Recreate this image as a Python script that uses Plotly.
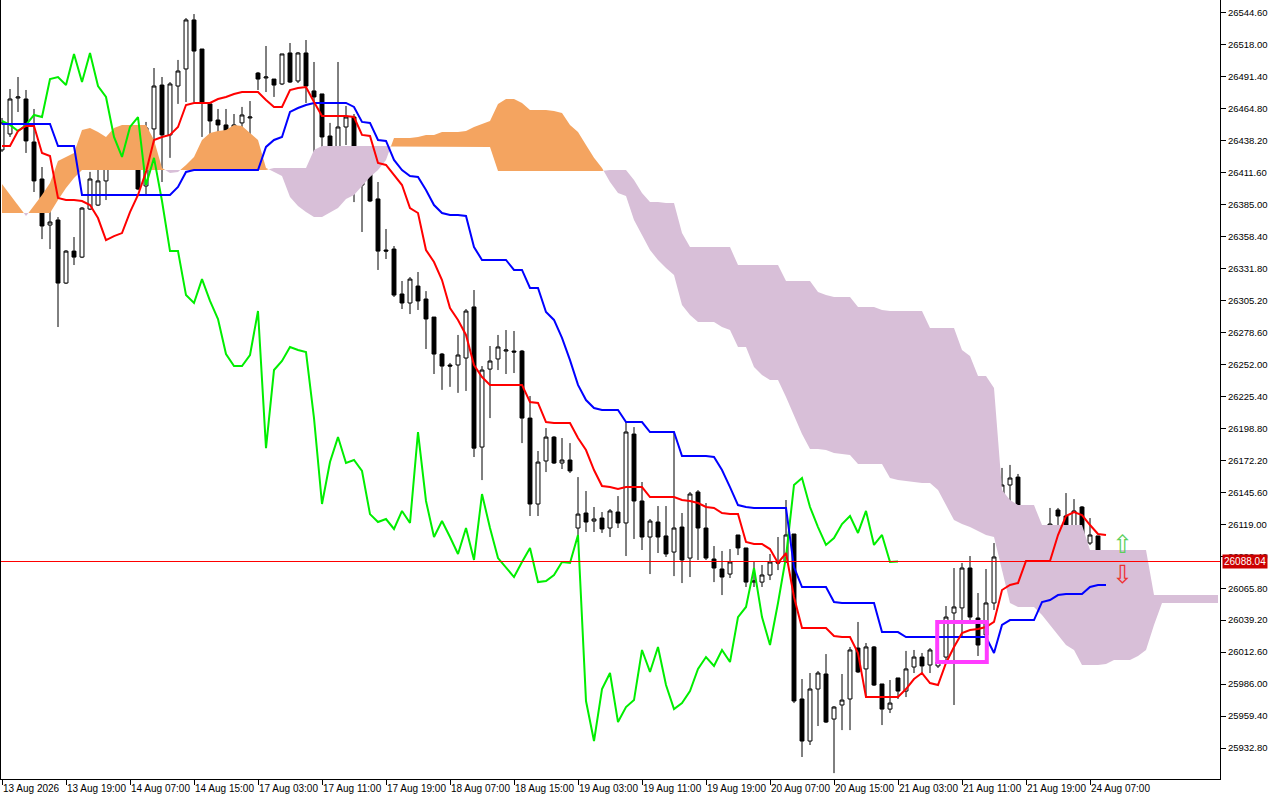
import plotly.graph_objects as go

# Hourly candles with Ichimoku lines and cloud (chart values)

time_labels = ["13 Aug 2026", "13 Aug 19:00", "14 Aug 07:00", "14 Aug 15:00", "17 Aug 03:00",
               "17 Aug 11:00", "17 Aug 19:00", "18 Aug 07:00", "18 Aug 15:00", "19 Aug 03:00",
               "19 Aug 11:00", "19 Aug 19:00", "20 Aug 07:00", "20 Aug 15:00", "21 Aug 03:00",
               "21 Aug 11:00", "21 Aug 19:00", "24 Aug 07:00"]

price_ticks = [25932.80, 25959.40, 25986.00, 26012.60, 26039.20, 26065.80, 26092.40, 26119.00,
               26145.60, 26172.20, 26198.80, 26225.40, 26252.00, 26278.60, 26305.20, 26331.80,
               26358.40, 26385.00, 26411.60, 26438.20, 26464.80, 26491.40, 26518.00, 26544.60]

opens = [26430.6, 26443.9, 26473.8, 26473.0, 26437.2, 26406.4, 26368.1, 26372.3, 26319.8, 26346.4,
         26341.4, 26381.4, 26384.7, 26404.8, 26419.8, 26421.4, 26418.1, 26416.4, 26400.6, 26448.1,
         26484.6, 26443.1, 26483.8, 26498.0, 26538.8, 26514.6, 26468.9, 26455.5, 26451.4, 26444.7,
         26453.1, 26457.2, 26494.6, 26490.5, 26489.6, 26485.5, 26511.3, 26488.0, 26511.3, 26479.7,
         26477.2, 26442.2, 26424.8, 26449.7, 26458.0, 26401.4, 26423.1, 26389.8, 26347.3, 26348.1,
         26310.7, 26303.2, 26317.3, 26306.5, 26291.5, 26260.7, 26251.6, 26251.6, 26257.4, 26299.9,
         26183.3, 26248.2, 26256.6, 26263.2, 26263.2, 26263.2, 26207.4, 26135.9, 26171.7, 26191.6,
         26170.0, 26172.5, 26115.9, 26128.4, 26121.7, 26124.2, 26115.9, 26129.2, 26120.1, 26194.1,
         26138.4, 26108.4, 26120.9, 26109.3, 26095.9, 26116.7, 26090.9, 26145.9, 26115.9, 26090.1,
         26081.8, 26077.6, 26110.1, 26099.3, 26070.9, 26070.9, 26076.8, 26087.6, 26087.6, 26110.9,
         25973.6, 25938.6, 25981.9, 25994.4, 25956.9, 25968.6, 25973.6, 26016.0, 25998.6, 26016.9,
         25986.1, 25965.2, 25991.1, 25980.2, 26000.2, 26008.5, 26001.9, 26001.1, 26008.5, 26045.2,
         26049.4, 26082.6, 26041.0, 26026.9, 26053.5, 26091.8, 26151.7, 26158.3, 26133.4, 26118.4,
         26102.6, 26108.4, 26130.9, 26125.9, 26111.8, 26133.4, 26103.4, 26109.3, 26082.6]

highs = [26457.2, 26481.3, 26491.3, 26480.5, 26464.7, 26416.4, 26389.8, 26374.7, 26347.3, 26358.1,
         26383.1, 26412.3, 26424.8, 26424.8, 26433.1, 26438.9, 26426.4, 26418.9, 26453.9, 26498.8,
         26491.3, 26487.1, 26505.5, 26540.4, 26543.7, 26514.6, 26468.9, 26464.7, 26464.7, 26460.5,
         26466.4, 26471.3, 26495.5, 26517.1, 26489.6, 26510.5, 26519.6, 26512.1, 26522.1, 26503.8,
         26477.2, 26453.1, 26503.8, 26467.2, 26460.5, 26424.8, 26425.6, 26403.9, 26364.8, 26350.6,
         26321.5, 26324.8, 26329.0, 26313.1, 26291.5, 26261.6, 26253.3, 26276.6, 26298.2, 26314.0,
         26250.7, 26267.4, 26276.6, 26280.7, 26279.9, 26264.1, 26225.8, 26180.0, 26199.1, 26192.4,
         26190.8, 26186.6, 26158.3, 26146.7, 26133.4, 26129.2, 26131.7, 26142.5, 26204.1, 26199.9,
         26154.2, 26123.4, 26134.2, 26134.2, 26195.8, 26128.4, 26145.9, 26147.5, 26136.7, 26100.9,
         26096.8, 26098.4, 26110.1, 26099.3, 26087.6, 26085.1, 26094.3, 26108.4, 26139.2, 26110.9,
         25990.2, 25995.2, 25996.9, 26011.0, 25967.7, 25994.4, 26016.9, 26037.7, 26020.2, 26017.7,
         25986.1, 25989.4, 25991.1, 26013.6, 26014.4, 26011.9, 26016.0, 26022.7, 26051.0, 26082.6,
         26086.8, 26092.6, 26061.8, 26081.8, 26103.4, 26165.9, 26168.4, 26160.9, 26133.4, 26118.4,
         26107.6, 26132.6, 26132.6, 26145.0, 26140.0, 26134.2, 26124.2, 26109.3, 26090.0]

lows = [26428.9, 26441.4, 26462.2, 26428.1, 26395.6, 26356.4, 26348.1, 26283.2, 26319.0, 26334.8,
        26340.6, 26380.6, 26383.9, 26388.9, 26417.2, 26417.2, 26415.6, 26397.2, 26393.1, 26428.1,
        26403.9, 26424.0, 26468.9, 26470.5, 26470.5, 26441.4, 26414.7, 26414.7, 26444.7, 26441.4,
        26447.2, 26443.9, 26480.5, 26478.8, 26474.7, 26484.6, 26486.3, 26486.3, 26469.7, 26426.4,
        26394.8, 26406.4, 26412.3, 26434.7, 26387.2, 26362.3, 26387.2, 26330.7, 26339.8, 26308.2,
        26298.2, 26294.0, 26297.4, 26264.9, 26244.1, 26230.9, 26233.4, 26228.4, 26230.0, 26175.0,
        26155.8, 26207.4, 26247.4, 26244.1, 26244.9, 26186.6, 26125.9, 26125.9, 26162.5, 26169.2,
        26165.0, 26161.7, 26110.1, 26112.6, 26112.6, 26111.8, 26108.4, 26115.9, 26092.6, 26106.8,
        26097.6, 26077.6, 26095.1, 26091.8, 26075.9, 26070.1, 26075.1, 26089.3, 26089.3, 26070.9,
        26060.1, 26074.3, 26093.4, 26066.8, 26066.8, 26066.8, 26072.6, 26080.9, 26086.8, 25970.2,
        25925.3, 25935.3, 25951.1, 25953.6, 25911.9, 25947.7, 25947.7, 25995.2, 25975.2, 25984.4,
        25951.9, 25961.9, 25973.6, 25975.2, 25995.2, 25995.2, 25995.2, 25999.4, 26006.0, 25968.6,
        26025.2, 26039.3, 26009.4, 26022.7, 26047.7, 26087.6, 26118.4, 26111.8, 26101.8, 26098.4,
        26093.4, 26093.4, 26111.8, 26110.9, 26101.8, 26100.9, 26101.8, 26075.9, 26081.8]

closes = [26453.1, 26473.0, 26474.7, 26438.1, 26404.8, 26367.3, 26370.6, 26319.8, 26346.4, 26341.4,
          26382.2, 26406.4, 26404.8, 26421.4, 26421.4, 26418.1, 26416.4, 26398.1, 26448.9, 26483.8,
          26443.1, 26485.5, 26496.3, 26538.8, 26512.9, 26469.7, 26454.7, 26451.4, 26446.4, 26451.4,
          26459.7, 26458.0, 26489.6, 26491.3, 26484.6, 26510.5, 26487.1, 26511.3, 26483.8, 26474.7,
          26441.4, 26424.8, 26449.7, 26458.0, 26401.4, 26424.0, 26388.1, 26346.4, 26346.4, 26309.8,
          26303.2, 26323.1, 26304.9, 26289.9, 26260.7, 26250.7, 26250.7, 26259.9, 26296.5, 26182.4,
          26247.4, 26254.9, 26266.6, 26264.1, 26262.4, 26207.4, 26135.9, 26170.8, 26191.6, 26170.0,
          26172.5, 26163.4, 26127.5, 26120.9, 26123.4, 26115.1, 26130.1, 26120.1, 26195.8, 26138.4,
          26108.4, 26121.7, 26108.4, 26094.3, 26115.9, 26089.3, 26144.2, 26115.9, 26090.9, 26082.6,
          26075.1, 26087.6, 26099.3, 26070.9, 26071.8, 26076.8, 26087.6, 26086.8, 26110.1, 25971.9,
          25938.6, 25981.9, 25995.2, 25954.4, 25966.9, 25972.7, 26014.4, 25996.1, 26016.9, 25985.2,
          25965.2, 25970.2, 25980.2, 25998.6, 26008.5, 26001.1, 26014.4, 26004.4, 26041.8, 26050.2,
          26082.6, 26041.8, 26018.5, 26053.5, 26091.8, 26151.7, 26157.5, 26133.4, 26116.7, 26101.8,
          26107.6, 26119.2, 26125.9, 26111.8, 26130.1, 26101.8, 26110.1, 26087.6, 26088.04]

tenkan = [26433.9, 26433.9, 26446.4, 26450.6, 26450.6, 26428.1, 26425.6, 26390.6, 26388.9, 26388.9,
          26388.1, 26384.7, 26373.9, 26355.6, 26358.9, 26361.4, 26378.9, 26393.1, 26412.3, 26438.9,
          26441.4, 26443.1, 26449.7, 26468.0, 26469.7, 26469.7, 26469.7, 26473.0, 26474.7, 26477.2,
          26478.8, 26478.8, 26478.8, 26472.2, 26466.4, 26466.4, 26480.5, 26482.1, 26483.0, 26470.5,
          26458.9, 26458.9, 26458.9, 26458.9, 26458.0, 26443.1, 26442.2, 26419.8, 26418.1, 26409.8,
          26401.4, 26382.2, 26378.1, 26347.3, 26337.3, 26322.3, 26299.0, 26289.1, 26276.6, 26251.6,
          26241.6, 26235.0, 26235.0, 26235.0, 26235.0, 26235.0, 26220.8, 26220.0, 26204.1, 26203.3,
          26203.3, 26203.3, 26190.8, 26180.8, 26164.2, 26150.9, 26150.0, 26148.4, 26150.0, 26150.0,
          26150.0, 26141.7, 26141.7, 26141.7, 26141.7, 26139.2, 26138.4, 26136.7, 26133.4, 26132.6,
          26128.4, 26127.5, 26127.5, 26104.3, 26102.6, 26102.6, 26098.4, 26086.8, 26095.1, 26058.5,
          26032.7, 26032.7, 26032.7, 26032.7, 26026.0, 26025.2, 26025.2, 26011.9, 25975.2, 25975.2,
          25975.2, 25975.2, 25975.2, 25981.9, 25990.2, 25995.2, 25986.9, 25985.2, 26003.6, 26016.9,
          26028.5, 26031.0, 26031.8, 26033.5, 26037.7, 26064.3, 26068.5, 26070.1, 26088.5, 26088.5,
          26088.5, 26088.5, 26110.1, 26125.9, 26129.2, 26126.7, 26118.4, 26110.9, 26110.1]

kijun = [26452.2, 26452.2, 26452.2, 26452.2, 26452.2, 26452.2, 26452.2, 26433.9, 26433.9, 26433.9,
         26393.1, 26393.1, 26393.1, 26393.1, 26393.1, 26393.1, 26393.1, 26393.1, 26393.1, 26393.1,
         26393.1, 26393.1, 26399.8, 26412.3, 26413.9, 26413.9, 26413.9, 26413.9, 26413.9, 26413.9,
         26413.9, 26413.9, 26413.9, 26433.1, 26438.9, 26441.4, 26462.2, 26465.5, 26468.0, 26469.7,
         26469.7, 26469.7, 26469.7, 26469.7, 26466.4, 26453.9, 26453.1, 26438.9, 26438.1, 26422.3,
         26413.9, 26408.9, 26408.1, 26397.2, 26384.7, 26378.1, 26376.4, 26376.4, 26375.6, 26349.8,
         26339.0, 26339.0, 26339.0, 26339.0, 26330.7, 26330.7, 26315.7, 26315.7, 26295.7, 26289.1,
         26274.1, 26255.7, 26235.0, 26222.4, 26215.8, 26214.1, 26214.1, 26214.1, 26204.1, 26204.1,
         26204.1, 26195.8, 26195.8, 26195.8, 26195.8, 26175.8, 26175.8, 26175.8, 26175.8, 26175.0,
         26164.2, 26150.0, 26135.0, 26133.4, 26132.6, 26132.6, 26132.6, 26132.6, 26132.6, 26083.4,
         26066.8, 26066.8, 26066.8, 26066.8, 26054.3, 26053.5, 26053.5, 26053.5, 26053.5, 26053.5,
         26029.3, 26029.3, 26029.3, 26025.2, 26025.2, 26025.2, 26025.2, 26025.2, 26025.2, 26025.2,
         26025.2, 26025.2, 26025.2, 26025.2, 26011.9, 26035.2, 26039.3, 26039.3, 26039.3, 26039.3,
         26054.3, 26056.0, 26060.1, 26061.0, 26061.0, 26061.0, 26066.8, 26068.5, 26068.5]

# Senkou spans, already shifted 26 bars ahead (they run past the last candle)
span_a = [26402.2, 26393.1, 26384.7, 26375.6, 26383.9, 26393.1, 26403.1, 26421.4, 26424.8, 26428.1,
          26447.2, 26448.9, 26445.6, 26441.4, 26448.9, 26451.4, 26451.4, 26451.4, 26451.4, 26438.9,
          26415.6, 26411.4, 26412.3, 26418.1, 26424.8, 26438.9, 26444.7, 26446.4, 26447.2, 26451.4,
          26450.6, 26444.7, 26438.9, 26415.6, 26412.3, 26408.9, 26391.4, 26383.9, 26378.9, 26374.7,
          26374.7, 26378.1, 26382.2, 26389.8, 26393.1, 26400.6, 26408.1, 26413.9, 26422.3, 26440.5,
          26440.5, 26440.5, 26441.4, 26443.1, 26443.1, 26445.6, 26445.6, 26445.6, 26446.4, 26449.7,
          26452.2, 26454.7, 26468.9, 26473.0, 26473.0, 26469.7, 26463.8, 26463.8, 26463.8, 26463.0,
          26461.3, 26451.4, 26445.6, 26434.7, 26424.0, 26415.6, 26403.9, 26394.8, 26392.3, 26372.3,
          26359.8, 26347.3, 26339.0, 26332.3, 26326.5, 26301.5, 26293.2, 26287.4, 26287.4, 26287.4,
          26283.2, 26280.7, 26266.6, 26266.6, 26250.0, 26243.3, 26239.1, 26239.1, 26225.0, 26209.1,
          26194.1, 26181.7, 26181.7, 26180.8, 26178.3, 26177.5, 26176.7, 26169.2, 26169.2, 26169.2,
          26169.2, 26157.5, 26155.8, 26155.0, 26154.2, 26153.4, 26153.4, 26147.5, 26135.0, 26122.6,
          26119.2, 26116.7, 26113.4, 26110.1, 26108.4, 26080.9, 26053.5, 26050.2, 26050.2, 26050.2,
          26043.5, 26035.2, 26026.9, 26018.5, 26014.4, 26001.9, 26001.9, 26001.9, 26002.7, 26006.0,
          26006.0, 26006.0, 26009.4, 26014.4, 26035.2, 26053.5, 26053.5, 26053.5, 26053.5, 26053.5,
          26053.5, 26053.5, 26053.5]

span_b = [26378.1, 26378.1, 26378.1, 26378.1, 26378.1, 26378.1, 26378.1, 26388.9, 26398.9, 26407.2,
          26413.9, 26413.9, 26413.9, 26413.9, 26413.9, 26413.9, 26413.9, 26413.9, 26413.9, 26413.9,
          26413.9, 26413.9, 26413.9, 26413.9, 26413.9, 26413.9, 26413.9, 26413.9, 26413.9, 26413.9,
          26413.9, 26413.9, 26413.9, 26413.9, 26415.6, 26415.6, 26415.6, 26415.6, 26415.6, 26430.6,
          26433.9, 26433.9, 26433.9, 26433.9, 26433.9, 26433.9, 26433.9, 26433.9, 26433.9, 26433.1,
          26433.1, 26433.1, 26433.1, 26433.1, 26433.1, 26433.1, 26433.1, 26433.1, 26433.1, 26433.1,
          26433.1, 26433.1, 26413.1, 26413.1, 26413.1, 26413.1, 26413.1, 26413.1, 26413.1, 26413.1,
          26413.1, 26413.1, 26413.1, 26413.1, 26413.1, 26413.1, 26413.9, 26413.9, 26413.9, 26405.6,
          26394.8, 26387.2, 26387.2, 26386.4, 26386.4, 26361.4, 26349.8, 26349.8, 26349.8, 26349.8,
          26349.8, 26349.8, 26334.8, 26334.8, 26334.8, 26334.8, 26334.8, 26334.8, 26321.5, 26321.5,
          26321.5, 26321.5, 26312.3, 26309.8, 26308.2, 26308.2, 26308.2, 26299.9, 26299.9, 26299.9,
          26297.4, 26296.5, 26296.5, 26296.5, 26296.5, 26296.5, 26282.4, 26282.4, 26282.4, 26282.4,
          26264.1, 26259.1, 26242.4, 26242.4, 26232.4, 26147.5, 26139.2, 26135.0, 26135.0, 26135.0,
          26118.4, 26118.4, 26118.4, 26118.4, 26118.4, 26118.4, 26097.6, 26097.6, 26097.6, 26097.6,
          26097.6, 26097.6, 26097.6, 26097.6, 26060.1, 26060.1, 26060.1, 26060.1, 26060.1, 26060.1,
          26060.1, 26060.1, 26060.1]

chikou_shift = 26
last_price = 26088.04

# signal arrows and the marked zone
arrow_bar = 140
buy_arrow_price = 26101.8
sell_arrow_price = 26077.6
zone_bars = (116.9, 123.1)
zone_prices = (26004.4, 26037.7)

X_VIEW = (-0.25, 152.25)
Y_VIEW = (25907.0, 26555.4)
BULL_CLOUD = "#f4a460"
BEAR_CLOUD = "#d8bfd8"
FONT = "Liberation Sans"


def cloud_pieces(a, b):
    """Split the area between span A and B into single coloured polygons"""
    pieces = []
    up = a[0] >= b[0]
    xs, top, bot = [0], [a[0]], [b[0]]
    for i in range(1, len(a)):
        now_up = a[i] >= b[i]
        if now_up != up:
            d0, d1 = a[i - 1] - b[i - 1], a[i] - b[i]
            t = d0 / (d0 - d1)
            xc = i - 1 + t
            yc = a[i - 1] + t * (a[i] - a[i - 1])
            xs.append(xc); top.append(yc); bot.append(yc)
            pieces.append((up, xs, top, bot))
            xs, top, bot = [xc], [yc], [yc]
            up = now_up
        xs.append(i); top.append(a[i]); bot.append(b[i])
    pieces.append((up, xs, top, bot))
    return pieces


fig = go.Figure()

for up, xs, top, bot in cloud_pieces(span_a, span_b):
    fig.add_trace(go.Scatter(x=xs + xs[::-1], y=top + bot[::-1], mode="lines",
                             fill="toself", fillcolor=BULL_CLOUD if up else BEAR_CLOUD,
                             line=dict(width=0), hoverinfo="skip"))

bars = list(range(len(closes)))

fig.add_trace(go.Candlestick(x=bars, open=opens, high=highs, low=lows, close=closes,
                             increasing=dict(line=dict(color="black", width=1), fillcolor="white"),
                             decreasing=dict(line=dict(color="black", width=1), fillcolor="black"),
                             whiskerwidth=0, hoverinfo="skip"))

# Chikou span: close plotted 26 bars back
fig.add_trace(go.Scatter(x=bars[:len(closes) - chikou_shift], y=closes[chikou_shift:], mode="lines",
                         line=dict(color="#00ee00", width=2), hoverinfo="skip"))
fig.add_trace(go.Scatter(x=bars, y=kijun, mode="lines",
                         line=dict(color="#0000ff", width=2), hoverinfo="skip"))
fig.add_trace(go.Scatter(x=bars, y=tenkan, mode="lines",
                         line=dict(color="#ff0000", width=2), hoverinfo="skip"))

# current price line across the whole view + label on the price scale
fig.add_trace(go.Scatter(x=list(X_VIEW), y=[last_price, last_price], mode="lines",
                         line=dict(color="#ff0000", width=1), hoverinfo="skip"))
fig.add_annotation(xref="paper", x=1, y=last_price, xanchor="left", xshift=2,
                   text=f"{last_price:.2f}", showarrow=False, bgcolor="#cc0000",
                   font=dict(family=FONT, size=10, color="white"), borderpad=1)

# marked zone
fig.add_shape(type="rect", x0=zone_bars[0], x1=zone_bars[1], y0=zone_prices[0], y1=zone_prices[1],
              line=dict(color="#ff3cff", width=4))

# hollow buy / sell arrows next to the last bar
fig.add_annotation(x=arrow_bar, y=buy_arrow_price, text="\u21e7", showarrow=False,
                   font=dict(family="DejaVu Sans", size=25, color="#5ccf5c"))
fig.add_annotation(x=arrow_bar, y=sell_arrow_price, text="\u21e9", showarrow=False,
                   font=dict(family="DejaVu Sans", size=25, color="#ee3030"))

# left frame line
fig.add_shape(type="line", xref="paper", yref="paper", x0=0, x1=0, y0=0, y1=1,
              line=dict(color="black", width=2))

fig.update_layout(
    width=1280, height=800,
    margin=dict(l=0, r=60, t=0, b=21, autoexpand=False),
    paper_bgcolor="white", plot_bgcolor="white",
    showlegend=False,
    font=dict(family=FONT, size=10, color="black"),
    xaxis=dict(range=list(X_VIEW), tickvals=[8 * k for k in range(len(time_labels))],
               ticktext=time_labels, ticks="outside", ticklen=5, tickcolor="black",
               ticklabelposition="outside right", tickangle=0, automargin=False,
               showline=True, linecolor="black",
               showgrid=False, zeroline=False, rangeslider=dict(visible=False),
               tickfont=dict(family=FONT, size=10)),
    yaxis=dict(side="right", range=list(Y_VIEW), tickvals=price_ticks,
               ticktext=[f"{p:.2f}" for p in price_ticks], ticks="outside", ticklen=5,
               tickcolor="black", showline=True, linecolor="black", showgrid=False,
               automargin=False, zeroline=False, tickfont=dict(family=FONT, size=9.5)),
)

# the page body has a default margin; drop it so the chart sits at the window corner
fig.write_html("out.html", config={"displayModeBar": False},
               post_script="document.body.style.margin='0';")
